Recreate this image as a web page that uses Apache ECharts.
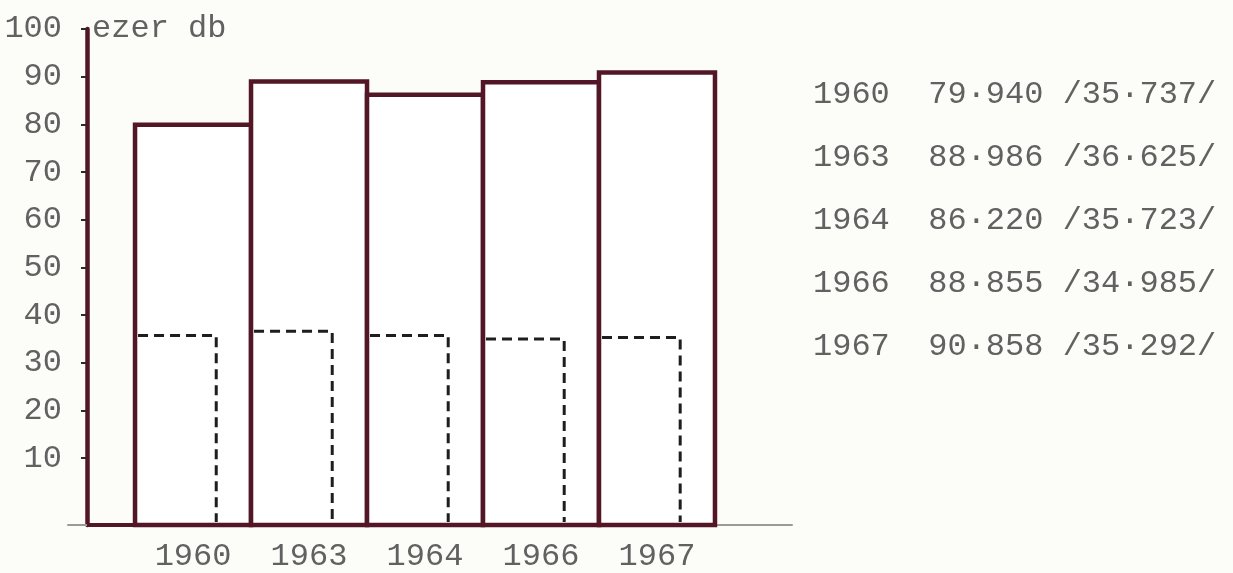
<!DOCTYPE html>
<html>
<head>
<meta charset="utf-8">
<script src="https://cdn.jsdelivr.net/npm/echarts@6/dist/echarts.min.js"></script>
<style>
  html, body { margin: 0; padding: 0; background: #fcfcf8; }
  #chart { width: 1233px; height: 573px; }
</style>
</head>
<body>
<div id="chart"></div>
<script>
// ezer db (thousand pieces)
const years = ['1960', '1963', '1964', '1966', '1967']
const totals = [79.940, 88.986, 86.220, 88.855, 90.858]
const parts = [35.737, 36.625, 35.723, 34.985, 35.292]
const yTicks = [10, 20, 30, 40, 50, 60, 70, 80, 90, 100]

const BAR_OFFSET = 0.414 // gap between y axis and first bar, in bar widths
const PART_WIDTH = 0.7
const Y_MIN = -4
const MAROON = '#531626'
const TEXT = '#616161'
const FONT = 'Liberation Mono'

const chart = echarts.init(document.getElementById('chart'))

const fmt = v => v.toFixed(3).replace('.', '·')
const tableText = years
  .map((y, i) => `${y}  ${fmt(totals[i])} /${fmt(parts[i])}/`)
  .join('\n')

const barData = years.map((y, i) => [i, totals[i], parts[i]])

const renderBar = (params, api) => {
  const i = api.value(0)
  const x0 = i + BAR_OFFSET
  const bl = api.coord([x0, Y_MIN])
  const tr = api.coord([x0 + 1, api.value(1)])
  const children = []

  if (i === 0) {
    // thick baseline from the y axis to the last bar
    const a = api.coord([0, Y_MIN])
    const b = api.coord([years.length + BAR_OFFSET, Y_MIN])
    children.push({
      type: 'line',
      shape: { x1: a[0], y1: a[1], x2: b[0], y2: b[1] },
      style: { stroke: MAROON, lineWidth: 4 }
    })
  }

  children.push({
    type: 'rect',
    shape: { x: bl[0], y: tr[1], width: tr[0] - bl[0], height: bl[1] - tr[1] },
    style: { fill: '#ffffff', stroke: MAROON, lineWidth: 4.5 }
  })

  // dashed inner bar (top and right side only)
  const pl = api.coord([x0, api.value(2)])
  const pr = api.coord([x0 + PART_WIDTH, api.value(2)])
  children.push({
    type: 'polyline',
    shape: { points: [[pl[0] + 3, pl[1]], pr, [pr[0], bl[1] - 3]] },
    style: { fill: null, stroke: '#1e1e1e', lineWidth: 3, lineDash: [10, 6] }
  })

  return { type: 'group', children }
}

const option = {
  backgroundColor: '#fcfcf8',
  animation: false,
  title: {
    text: tableText,
    left: 813,
    top: 63,
    padding: 0,
    textStyle: {
      fontFamily: FONT,
      fontSize: 32,
      fontWeight: 'normal',
      lineHeight: 63,
      color: TEXT
    }
  },
  grid: {
    left: 68,
    right: 441,
    top: 29,
    bottom: 48
  },
  xAxis: {
    type: 'value',
    min: -0.164,
    max: 6.078,
    axisLine: { onZero: false, lineStyle: { color: '#9a9a9a', width: 2 } },
    axisTick: { show: false },
    splitLine: { show: false },
    axisLabel: {
      customValues: years.map((y, i) => i + BAR_OFFSET + 0.5),
      formatter: v => years[Math.round(v - BAR_OFFSET - 0.5)],
      color: TEXT,
      fontFamily: FONT,
      fontSize: 32,
      margin: 16
    }
  },
  yAxis: {
    type: 'value',
    min: Y_MIN,
    max: 100,
    name: 'ezer db',
    nameLocation: 'end',
    nameGap: 0,
    nameTextStyle: {
      align: 'left',
      verticalAlign: 'middle',
      padding: [0, 0, 0, 5],
      color: TEXT,
      fontFamily: FONT,
      fontSize: 32
    },
    axisLine: { onZero: true, lineStyle: { color: MAROON, width: 4.5 } },
    axisTick: {
      customValues: yTicks,
      length: 6,
      lineStyle: { color: '#2a2a2a', width: 2 }
    },
    axisLabel: {
      customValues: yTicks,
      color: TEXT,
      fontFamily: FONT,
      fontSize: 32,
      margin: 6
    },
    splitLine: { show: false }
  },
  series: [
    {
      type: 'custom',
      renderItem: renderBar,
      data: barData,
      encode: { x: 0, y: 1 }
    }
  ]
}

chart.setOption(option)
window.addEventListener('resize', () => chart.resize())
</script>
</body>
</html>
